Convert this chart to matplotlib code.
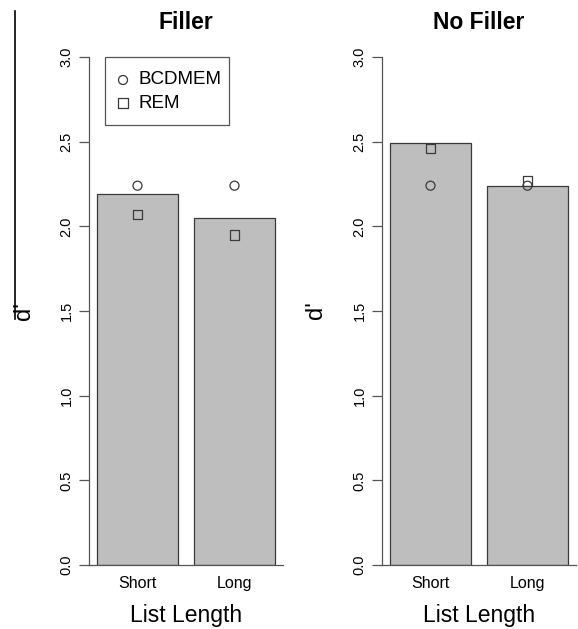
import numpy as np
import matplotlib.pyplot as plt
from matplotlib.lines import Line2D
from matplotlib.patches import Rectangle

plt.rcParams['font.family'] = ['Liberation Sans', 'DejaVu Sans']

# d' per list length, one panel per filler condition
lengths = ['Short', 'Long']
filler_data = [2.19, 2.05]
filler_bcdmem = [2.24, 2.24]
filler_rem = [2.07, 1.95]
nofiller_data = [2.49, 2.24]
nofiller_bcdmem = [2.24, 2.24]
nofiller_rem = [2.46, 2.27]

W, H = 578, 629
fig = plt.figure(figsize=(W/100, H/100), dpi=100)

edge = '#555555'
mark = '#3a3a3a'

def panel(left_px, title, data, bcdmem, rem):
    ax = fig.add_axes([left_px/W, (H-565)/H, 194/W, 508/H])
    x = np.array([0.7, 1.9])  # R-style barplot positions, width 1, space 0.2
    ax.bar(x, data, width=1.0, color='#bebebe', edgecolor=mark, linewidth=0.9, zorder=2)
    ax.scatter(x, bcdmem, marker='o', s=42, facecolors='none', edgecolors=mark,
               linewidths=0.9, zorder=3, clip_on=False)
    ax.scatter(x, rem, marker='s', s=50, facecolors='none', edgecolors=mark,
               linewidths=0.9, zorder=3, clip_on=False)
    ax.set_xlim(0.1, 2.5)
    ax.set_ylim(0, 3.0)
    ticks = np.arange(0, 3.01, 0.5)
    ax.set_yticks(ticks)
    ax.set_yticklabels(['%.1f' % v for v in ticks], rotation=90, va='center', fontsize=10.5)
    ax.set_xticks(x)
    ax.set_xticklabels(lengths, fontsize=11.5)
    ax.tick_params(axis='x', length=0, pad=8)
    ax.tick_params(axis='y', length=7, width=0.9, color=edge, pad=4)
    for s in ['top', 'right']:
        ax.spines[s].set_visible(False)
    for s in ['left', 'bottom']:
        ax.spines[s].set_color(edge)
        ax.spines[s].set_linewidth(0.9)
    ax.set_xlabel('List Length', fontsize=16.5, labelpad=9)
    ax.set_ylabel("d'", fontsize=17)
    ax.set_title(title, fontsize=16.5, fontweight='bold', pad=20)
    return ax

ax1 = panel(89, 'Filler', filler_data, filler_bcdmem, filler_rem)
ax2 = panel(382, 'No Filler', nofiller_data, nofiller_bcdmem, nofiller_rem)

ax1.yaxis.set_label_coords(-(89-35)/194, (565-311)/508)
ax2.yaxis.set_label_coords(-(382-327)/194, (565-310)/508)

# legend box drawn in the Filler panel, R style
def fx(px):
    return (px - 89) / 194

def fy(py):
    return (565 - py) / 508

ax1.add_patch(Rectangle((fx(105), fy(125)), fx(229) - fx(105), fy(57) - fy(125),
                        transform=ax1.transAxes, facecolor='white', edgecolor=edge,
                        linewidth=0.9, zorder=4, clip_on=False))
for yy, m, s, lab in [(80, 'o', 42, 'BCDMEM'), (103, 's', 50, 'REM')]:
    ax1.scatter([fx(123)], [fy(yy)], marker=m, s=s, facecolors='none', edgecolors=mark,
                linewidths=0.9, transform=ax1.transAxes, zorder=5, clip_on=False)
    ax1.text(fx(139), fy(yy), lab, transform=ax1.transAxes, fontsize=13.5,
             ha='left', va='center', zorder=5)

# stray vertical rule at the left edge
fig.add_artist(Line2D([15/W, 15/W], [1-11/H, 1-319/H], color='black', linewidth=1.2))

fig.savefig('out.png', dpi=100)
